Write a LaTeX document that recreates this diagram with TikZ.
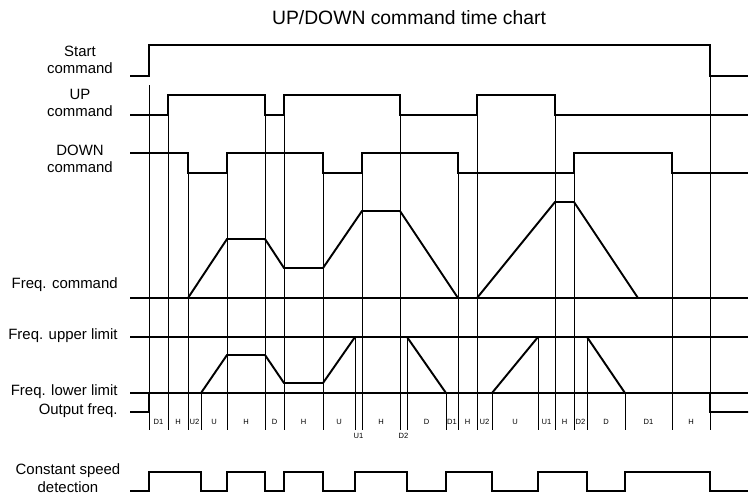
\documentclass[tikz,border=0pt]{standalone}
\usepackage{fontspec}
\setmainfont{Liberation Sans}
\usepackage{tikz}
\usetikzlibrary{positioning}

\tikzset{
    wave/.style={line width=1.1pt, line join=miter},
    gridline/.style={line width=0.55pt},
    levelline/.style={line width=0.7pt},
    sig/.style={font=\fontsize{8.5}{10}\selectfont, align=center, inner sep=0pt},
    phase/.style={font=\fontsize{4.3}{5}\selectfont, inner sep=0pt}
}

\begin{document}
\begin{tikzpicture}[x=0.2mm, y=-0.2mm]
    \useasboundingbox (0,0) rectangle (751,494);

    \node[font=\fontsize{11}{13}\selectfont] (title) at (409,18) {UP/DOWN command time chart};

    % signal names
    \node[sig] (startlbl) at (80,60) {Start\\command};
    \node[sig] (uplbl) at (80,103) {UP\\command};
    \node[sig] (downlbl) at (80,159) {DOWN\\command};
    \node[sig, anchor=east] (fcmdlbl) at (118,285) {Freq. command};
    \node[sig, anchor=east] (upperlbl) at (118,336) {Freq. upper limit};
    \node[sig, anchor=east] (lowerlbl) at (118,392) {Freq. lower limit};
    \node[sig, anchor=east] (outlbl) at (118,411) {Output freq.};
    \node[sig] (constlbl) at (68,478) {Constant speed\\detection};

    % time marks
    \foreach \x/\t in {149/85, 168/95, 188/153, 201/393, 227/153, 265/95, 284/95,
                       323/153, 355/337, 362/153, 400/95, 407/337, 446/393, 458/153,
                       477/95, 492/393, 538/337, 555/95, 574/153, 587/337, 625/393,
                       672/153, 710/76}
        \draw[gridline] (\x,\t) -- (\x,430);

    % levels
    \draw[levelline] (130,298) -- (748,298);
    \draw[levelline] (130,337) -- (748,337);
    \draw[levelline] (130,393) -- (748,393);

    % commands
    \draw[wave] (130,76) -| (149,45) -| (710,76) -- (748,76);
    \draw[wave] (130,115) -| (168,95) -| (265,115) -| (284,95) -| (400,115)
        -| (477,95) -| (555,115) -- (748,115);
    \draw[wave] (130,153) -| (188,173) -| (227,153) -| (323,173) -| (362,153)
        -| (458,173) -| (574,153) -| (672,173) -- (748,173);

    % frequencies
    \draw[wave] (188,298) -- (227,239) -- (265,239) -- (284,268) -- (323,268)
        -- (362,211) -- (400,211) -- (458,298) -- (477,298) -- (555,202)
        -- (574,202) -- (638,298);
    \draw[wave] (130,412) -| (149,393) -- (201,393) -- (227,355) -- (265,355)
        -- (284,383) -- (323,383) -- (355,337) -- (407,337) -- (446,393)
        -- (492,393) -- (538,337) -- (587,337) -- (625,393) -- (710,393)
        |- (748,412);

    % constant speed detection
    \draw[wave] (130,491) -| (149,472) -| (201,491) -| (227,472) -| (265,491)
        -| (284,472) -| (323,491) -| (355,472) -| (407,491) -| (446,472)
        -| (492,491) -| (538,472) -| (587,491) -| (625,472) -| (710,491)
        -- (748,491);

    % phases
    \foreach \x/\p [count=\i] in {158.5/D1, 178/H, 194.5/U2, 214/U, 246/H, 274.5/D,
                       303.5/H, 339/U, 381/H, 426.5/D, 452/D1, 467.5/H, 484.5/U2,
                       515/U, 546.5/U1, 564.5/H, 580.5/D2, 606/D, 648.5/D1, 691/H}
        \node[phase] (ph\i) at (\x,422) {\p};
    \node[phase] (u1low) at (358.5,436) {U1};
    \node[phase] (d2low) at (403.5,436) {D2};
\end{tikzpicture}
\end{document}
